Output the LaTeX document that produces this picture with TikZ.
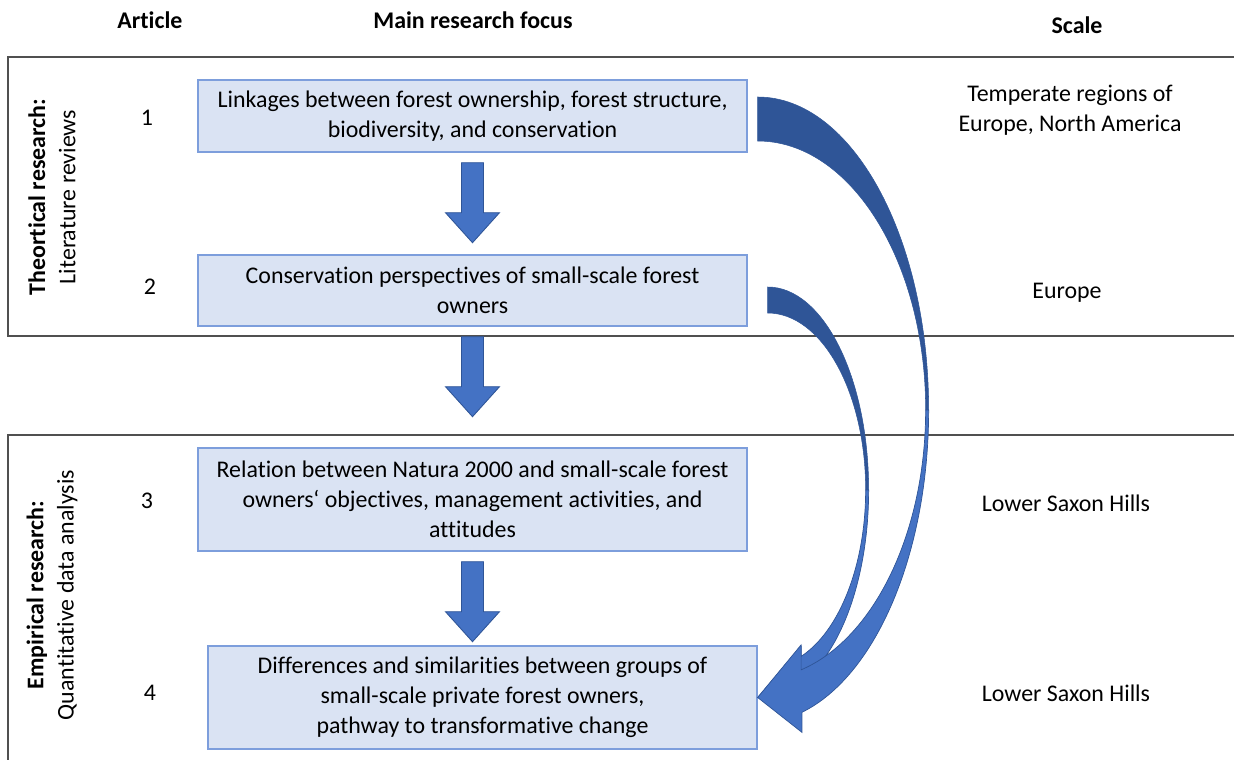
\documentclass[tikz,border=0pt]{standalone}
\usepackage{fontspec}
\setmainfont[Ligatures={NoCommon}]{Carlito}
\usetikzlibrary{calc}

\begin{document}
\begin{tikzpicture}[x=0.02cm,y=0.02cm,
	every node/.style={font=\fontsize{13.6pt}{17.2pt}\selectfont,align=center,inner sep=0pt},
	box/.style={draw=boxline,fill=boxfill,line width=0.8pt,minimum width=10.98cm},
	head/.style={font=\fontsize{13.6pt}{17.2pt}\selectfont\bfseries},
	frame/.style={draw=frameline,line width=1pt},
	blockarrow/.style={fill=arrowfill,draw=arrowline,line width=0.5pt},
	backband/.style={fill=banddark,draw=banddark,line width=0.3pt},
	frontband/.style={fill=arrowfill,draw=arrowline,line width=0.4pt}]
	
	\definecolor{boxfill}{RGB}{218,227,243}
	\definecolor{boxline}{RGB}{125,158,220}
	\definecolor{frameline}{RGB}{80,80,80}
	\definecolor{arrowfill}{RGB}{68,114,196}
	\definecolor{arrowline}{RGB}{47,85,151}
	\definecolor{banddark}{RGB}{47,85,151}
	
	\useasboundingbox (0,0) rectangle (1234,-760);
	
	% column heads
	\node[head] (hart) at (150,-20) {Article};
	\node[head] (hfocus) at (473,-20) {Main research focus};
	\node[head] (hscale) at (1077,-25) {Scale};
	
	% the two research blocks
	\draw[frame] (1234,-57) -- (8,-57) -- (8,-336) -- (1234,-336);
	\draw[frame] (1234,-435) -- (8,-435) -- (8,-760);
	\node[rotate=90] (theo) at (52,-197) {\textbf{Theortical research:}\\Literature reviews};
	\node[rotate=90] (emp) at (52,-595) {\textbf{Empirical research:}\\Quantitative data analysis};
	
	% articles
	\node[box,minimum height=1.44cm] (box1) at (472.5,-116)
		{Linkages between forest ownership, forest structure,\\biodiversity, and conservation};
	\node[box,minimum height=1.42cm] (box2) at (472.5,-290.5)
		{Conservation perspectives of small-scale forest\\owners};
	\node[box,minimum height=2.06cm] (box3) at (472.5,-499.5)
		{Relation between Natura 2000 and small-scale forest\\owners‘ objectives, management activities, and\\attitudes};
	\node[box,minimum height=2.06cm] (box4) at (482.5,-697.5)
		{Differences and similarities between groups of\\small-scale private forest owners,\\pathway to transformative change};
	
	\node (n1) at (147,-118) {1};
	\node (n2) at (150,-287) {2};
	\node (n3) at (147,-501) {3};
	\node (n4) at (150,-693) {4};
	
	\node (s1) at (1070,-110) {Temperate regions of\\Europe, North America};
	\node (s2) at (1067,-293) {Europe};
	\node (s3) at (1066,-503) {Lower Saxon Hills};
	\node (s4) at (1066,-693) {Lower Saxon Hills};
	
	% straight arrows between the articles
	\foreach \a in {box1,box2,box3}
		\filldraw[blockarrow] ([shift={(0,-10)}]\a.south) -- ++(11,0) -- ++(0,-50) -- ++(16,0)
			-- ++(-27,-30) -- ++(-27,30) -- ++(16,0) -- ++(0,50) -- cycle;
	
	% curved arrow from article 2 to article 4
	\coordinate (c2) at ([shift={(20,-199.5)}]box2.east);
	\filldraw[backband] (c2) ++(90:101 and 203) arc[start angle=90,end angle=0,x radius=101,y radius=203]
		-- ++(-3,0) arc[start angle=0,end angle=90,x radius=98,y radius=177] -- cycle;
	\filldraw[frontband] (c2) ++(0:101 and 203) arc[start angle=0,end angle=-70,x radius=101,y radius=203]
		-- ++(0,-10) -- (box4.east) -- ($(c2)+(-70:98 and 177)+(0,10)$)
		-- ($(c2)+(-70:98 and 177)$) arc[start angle=-70,end angle=0,x radius=98,y radius=177] -- cycle;
	
	% curved arrow from article 1 to article 4
	\coordinate (c1) at ([shift={(10,-294)}]box1.east);
	\filldraw[backband] (c1) ++(90:171 and 313) arc[start angle=90,end angle=0,x radius=171,y radius=313]
		-- ++(-3,0) arc[start angle=0,end angle=90,x radius=168,y radius=269] -- cycle;
	\filldraw[frontband] (c1) ++(0:171 and 313) arc[start angle=0,end angle=-75,x radius=171,y radius=313]
		-- ++(0,-20) -- (box4.east) -- ($(c1)+(-75:168 and 269)+(0,25)$)
		-- ($(c1)+(-75:168 and 269)$) arc[start angle=-75,end angle=0,x radius=168,y radius=269] -- cycle;
\end{tikzpicture}
\end{document}
